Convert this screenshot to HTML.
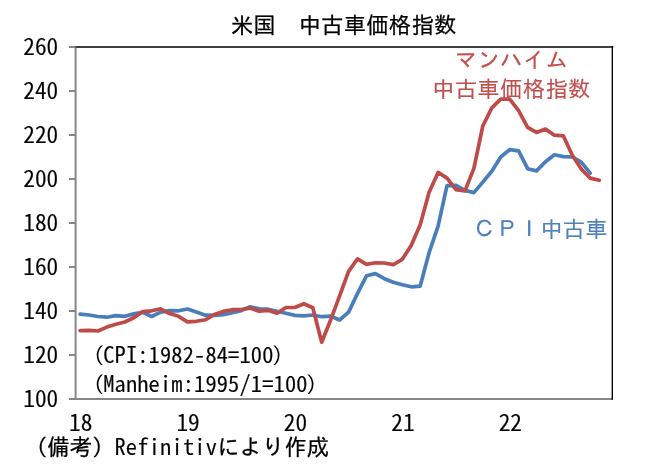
<!DOCTYPE html>
<html lang="ja"><head><meta charset="utf-8"><title>米国 中古車価格指数</title>
<style>html,body{margin:0;padding:0;background:#fff}svg{display:block}text{font-family:IPAGothic,"Liberation Sans","Noto Sans CJK JP",sans-serif;font-size:22.4px;stroke-width:.26px;stroke-linejoin:round}.a{font-family:"Noto Sans CJK JP",IPAGothic,"Liberation Sans",sans-serif;font-feature-settings:"hwid","liga" 0,"kern" 0;font-variant-ligatures:none;font-weight:350;stroke-width:.22px}.p{stroke-width:0}</style></head><body>
<svg width="647" height="473" viewBox="0 0 647 473">
<rect width="647" height="473" fill="#fff"/>
<path d="M80.1,314.1 L89.0,315.0 L98.0,316.5 L106.9,317.2 L115.9,315.6 L124.8,316.3 L133.8,313.9 L142.7,312.3 L151.7,316.5 L160.6,312.1 L169.6,310.6 L178.5,310.8 L187.5,309.0 L196.4,311.9 L205.4,315.2 L214.3,315.4 L223.3,314.7 L232.2,312.8 L241.2,310.6 L250.1,306.8 L259.1,308.8 L268.0,309.2 L277.0,311.2 L285.9,313.2 L294.9,315.4 L303.8,315.8 L312.8,315.0 L321.7,316.7 L330.7,316.1 L339.6,320.0 L348.6,312.1 L357.5,293.4 L366.5,275.8 L375.4,273.6 L384.4,278.7 L393.3,282.2 L402.3,284.8 L411.2,286.8 L420.2,286.1 L429.1,252.7 L438.1,226.1 L447.0,185.6 L456.0,185.4 L464.9,190.4 L473.9,192.6 L482.8,182.1 L491.8,171.3 L500.7,157.0 L509.7,149.7 L518.6,150.8 L527.6,168.7 L536.5,170.9 L545.5,161.8 L554.4,154.8 L563.4,156.6 L572.3,157.0 L581.3,162.1 L590.2,173.1" fill="none" stroke="#4A7EBB" stroke-width="3.7" stroke-linejoin="round" stroke-linecap="round"/>
<path d="M80.1,330.6 L89.0,330.4 L98.0,331.0 L106.9,327.1 L115.9,324.2 L124.8,322.0 L133.8,317.8 L142.7,311.7 L151.7,310.8 L160.6,308.8 L169.6,313.6 L178.5,316.3 L187.5,321.8 L196.4,321.3 L205.4,319.8 L214.3,314.5 L223.3,311.4 L232.2,309.7 L241.2,309.5 L250.1,308.1 L259.1,311.2 L268.0,310.3 L277.0,313.2 L285.9,307.5 L294.9,307.5 L303.8,303.7 L312.8,307.7 L321.7,342.2 L330.7,319.8 L339.6,295.8 L348.6,271.4 L357.5,258.9 L366.5,264.4 L375.4,262.8 L384.4,263.0 L393.3,264.6 L402.3,259.3 L411.2,245.4 L420.2,224.8 L429.1,192.2 L438.1,172.4 L447.0,178.1 L456.0,189.6 L464.9,190.9 L473.9,168.4 L482.8,126.0 L491.8,107.9 L500.7,99.1 L509.7,99.1 L518.6,110.6 L527.6,127.3 L536.5,132.4 L545.5,129.1 L554.4,135.2 L563.4,135.9 L572.3,155.2 L581.3,169.1 L590.2,178.1 L599.2,180.3" fill="none" stroke="#BE4B48" stroke-width="3.7" stroke-linejoin="round" stroke-linecap="round"/>
<g stroke="#868686" stroke-width="2" fill="none">
<line x1="75.6" y1="46.0" x2="75.6" y2="400.0"/>
<line x1="69.0" y1="399.0" x2="612.6" y2="399.0"/>
<line x1="69" y1="47.0" x2="75.6" y2="47.0"/>
<line x1="69" y1="91.0" x2="75.6" y2="91.0"/>
<line x1="69" y1="135.0" x2="75.6" y2="135.0"/>
<line x1="69" y1="179.0" x2="75.6" y2="179.0"/>
<line x1="69" y1="223.0" x2="75.6" y2="223.0"/>
<line x1="69" y1="267.0" x2="75.6" y2="267.0"/>
<line x1="69" y1="311.0" x2="75.6" y2="311.0"/>
<line x1="69" y1="355.0" x2="75.6" y2="355.0"/>
<line x1="69" y1="399.0" x2="75.6" y2="399.0"/>
</g>
<line x1="75.6" y1="47.0" x2="613.3" y2="47.0" stroke="#404040" stroke-width="1.8"/>
<line x1="612.3" y1="46.1" x2="612.3" y2="399.8" stroke="#000" stroke-width="1.35"/>
<text x="58.2" y="54.7" text-anchor="end" fill="#000" stroke="#000" style="font-size:23.3px"><tspan class="a">260</tspan></text>
<text x="58.2" y="98.7" text-anchor="end" fill="#000" stroke="#000" style="font-size:23.3px"><tspan class="a">240</tspan></text>
<text x="58.2" y="142.7" text-anchor="end" fill="#000" stroke="#000" style="font-size:23.3px"><tspan class="a">220</tspan></text>
<text x="58.2" y="186.7" text-anchor="end" fill="#000" stroke="#000" style="font-size:23.3px"><tspan class="a">200</tspan></text>
<text x="58.2" y="230.7" text-anchor="end" fill="#000" stroke="#000" style="font-size:23.3px"><tspan class="a">180</tspan></text>
<text x="58.2" y="274.7" text-anchor="end" fill="#000" stroke="#000" style="font-size:23.3px"><tspan class="a">160</tspan></text>
<text x="58.2" y="318.7" text-anchor="end" fill="#000" stroke="#000" style="font-size:23.3px"><tspan class="a">140</tspan></text>
<text x="58.2" y="362.7" text-anchor="end" fill="#000" stroke="#000" style="font-size:23.3px"><tspan class="a">120</tspan></text>
<text x="58.2" y="406.7" text-anchor="end" fill="#000" stroke="#000" style="font-size:23.3px"><tspan class="a">100</tspan></text>
<text x="80.7" y="431.0" text-anchor="middle" fill="#000" stroke="#000" style="font-size:23.3px"><tspan class="a">18</tspan></text>
<text x="188.1" y="431.0" text-anchor="middle" fill="#000" stroke="#000" style="font-size:23.3px"><tspan class="a">19</tspan></text>
<text x="295.5" y="431.0" text-anchor="middle" fill="#000" stroke="#000" style="font-size:23.3px"><tspan class="a">20</tspan></text>
<text x="402.9" y="431.0" text-anchor="middle" fill="#000" stroke="#000" style="font-size:23.3px"><tspan class="a">21</tspan></text>
<text x="510.3" y="431.0" text-anchor="middle" fill="#000" stroke="#000" style="font-size:23.3px"><tspan class="a">22</tspan></text>
<text x="343.7" y="33.3" text-anchor="middle" fill="#000" stroke="#000" letter-spacing="0.2">米国　中古車価格指数</text>
<text x="511.5" y="67.8" text-anchor="middle" fill="#C0504D" stroke="#C0504D" letter-spacing="0.35" style="stroke-width:.14px">マンハイム</text>
<text x="511.4" y="97" text-anchor="middle" fill="#C0504D" stroke="#C0504D" letter-spacing="0.3" style="stroke-width:.14px">中古車価格指数</text>
<text x="473.2" y="237.3" fill="#4F81BD" stroke="#4F81BD" style="stroke-width:.14px">ＣＰＩ中古車</text>
<text x="92" y="363.3" fill="#000" stroke="#000"><tspan class="p" dx="1.2" dy="0.9">(</tspan><tspan class="a" dx="-1.2" dy="-0.9" letter-spacing="0.16">CPI:1982-84=100</tspan><tspan class="p" dx="-1.8" dy="0.9">)</tspan></text>
<text x="92" y="391.7" fill="#000" stroke="#000"><tspan class="p" dx="1.2" dy="0.9">(</tspan><tspan class="a" dx="-1.2" dy="-0.9" letter-spacing="0.16">Manheim:1995/1=100</tspan><tspan class="p" dx="-1.8" dy="0.9">)</tspan></text>
<text x="24.9" y="455.1" fill="#000" stroke="#000">（備考）<tspan class="a" letter-spacing="0.22">Refinitiv</tspan>により作成</text>
</svg></body></html>
